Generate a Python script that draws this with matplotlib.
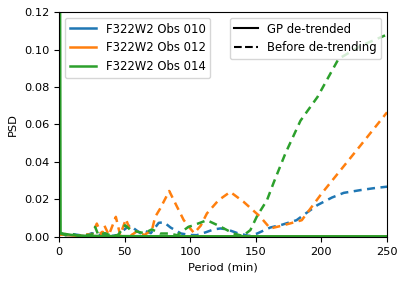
import matplotlib
matplotlib.use("Agg")
import matplotlib.pyplot as plt
from matplotlib.lines import Line2D

labels = ['F322W2 Obs 010', 'F322W2 Obs 012', 'F322W2 Obs 014']
colors = ['tab:blue', 'tab:orange', 'tab:green']

# before de-trending (dashed)
p010 = [0.5, 5, 10, 15, 20, 25, 30, 35, 40, 45, 50, 54, 58, 62, 66, 70, 76, 80, 85, 93,
        100, 105, 112, 118, 123, 128, 136, 145, 151, 161, 170, 181, 189, 197, 208, 217,
        230, 240, 250]
psd010 = [0.002, 0.001, 0.0015, 0.001, 0.0005, 0.002, 0.001, 0.0015, 0.0005, 0.001,
          0.004, 0.0063, 0.004, 0.002, 0.003, 0.002, 0.0075, 0.0078, 0.005, 0.0018,
          0.001, 0.0009, 0.0025, 0.004, 0.0045, 0.004, 0.002, 0.0005, 0.0018, 0.005,
          0.0065, 0.0089, 0.013, 0.017, 0.021, 0.0235, 0.025, 0.026, 0.0268]

p012 = [0.5, 5, 10, 15, 20, 25, 28.8, 32.6, 34.6, 38, 43.3, 46.6, 51, 55.5, 59.3, 65,
        70.8, 73.3, 77, 84, 90, 95, 100, 103, 108, 112.7, 121.6, 130.5, 140.7, 153.4,
        161, 170, 185, 200, 215, 230, 250]
psd012 = [0.001, 0.0015, 0.001, 0.0005, 0.0015, 0.001, 0.0071, 0.001, 0.006, 0.001,
          0.0107, 0.001, 0.0095, 0.001, 0.003, 0.001, 0.0036, 0.0107, 0.015, 0.0245,
          0.016, 0.009, 0.0045, 0.002, 0.006, 0.0125, 0.0196, 0.024, 0.0187, 0.0107,
          0.0045, 0.006, 0.0089, 0.023, 0.036, 0.049, 0.0665]

p014 = [0.5, 5, 10, 15, 20, 25, 27.5, 30, 35, 40, 45, 50.4, 54, 60, 65, 70.8, 77, 84,
        90, 98.5, 102.5, 112.7, 121.6, 133, 140, 145.8, 151, 158.5, 163.6, 172.5, 184,
        197, 213, 230, 250]
psd014 = [0.002, 0.001, 0.0015, 0.0005, 0.001, 0.001, 0.0053, 0.001, 0.002, 0.0005,
          0.001, 0.0062, 0.004, 0.0027, 0.002, 0.004, 0.0018, 0.0018, 0.0009, 0.0053,
          0.0062, 0.0089, 0.006, 0.0018, 0.0005, 0.0036, 0.0112, 0.0196, 0.029, 0.0445,
          0.062, 0.0747, 0.095, 0.102, 0.108]

# GP de-trended (solid)
pgp = [0.3, 1.2, 5, 10, 20, 50, 100, 150, 200, 250]
gp010 = [0.003, 0.0015, 0.001, 0.0008, 0.0004, 0.0003, 0.0002, 0.0002, 0.0002, 0.0002]
gp012 = [0.003, 0.0015, 0.001, 0.0008, 0.0004, 0.0003, 0.0002, 0.0002, 0.0002, 0.0002]
gp014 = [0.3, 0.002, 0.0015, 0.001, 0.0005, 0.0004, 0.0003, 0.0003, 0.0003, 0.0003]

plt.rcParams['font.size'] = 8.2
fig, ax = plt.subplots(figsize=(4.07, 2.81), dpi=100)
fig.subplots_adjust(left=0.145, right=0.951, top=0.957, bottom=0.157)

before = [(p010, psd010), (p012, psd012), (p014, psd014)]
gp = [gp010, gp012, gp014]
for i in range(3):
    ax.plot(pgp, gp[i], color=colors[i], ls='-', lw=1.8)
    ax.plot(before[i][0], before[i][1], color=colors[i], lw=1.8,
            ls=(0, (3.2, 2.2)))

ax.set_xlim(0, 250)
ax.set_ylim(0, 0.12)
ax.set_xlabel('Period (min)')
ax.set_ylabel('PSD')

h1 = [Line2D([], [], color=c, lw=1.8) for c in colors]
leg1 = ax.legend(h1, labels, loc='upper left', fontsize=8.4, handlelength=2.3)
ax.add_artist(leg1)
h2 = [Line2D([], [], color='k', ls='-'), Line2D([], [], color='k', ls='--')]
ax.legend(h2, ['GP de-trended', 'Before de-trending'], loc='upper right', fontsize=8.4)

fig.savefig('out.png')
